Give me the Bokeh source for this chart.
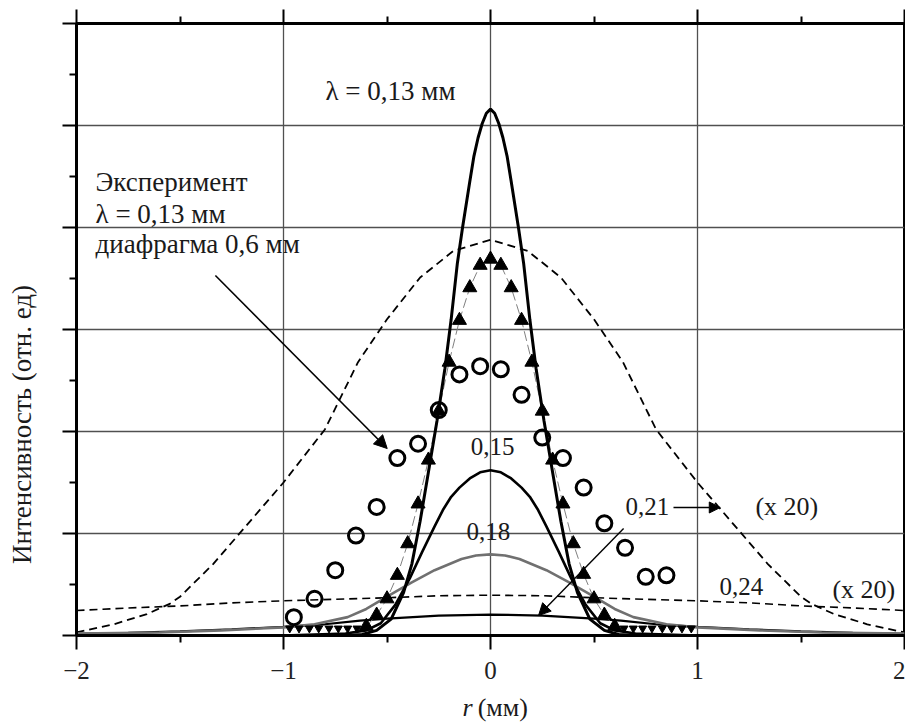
from math import pi
from bokeh.plotting import figure
from bokeh.layouts import row, column
from bokeh.models import Range1d, FixedTicker, LinearAxis, Label, Arrow, NormalHead
from bokeh.core.properties import value
from bokeh.embed import file_html
from bokeh.resources import INLINE

FONT = "Liberation Serif"

# ---------------- data ----------------
# theory, lambda = 0.13 mm
l013_x = [-0.70, -0.62, -0.55, -0.48, -0.42, -0.38, -0.34, -0.30, -0.258, -0.22, -0.19, -0.16, -0.135,
          -0.10, -0.08, -0.06, -0.04, -0.02, 0.0, 0.02, 0.04, 0.06, 0.08, 0.10, 0.135, 0.16, 0.19, 0.22,
          0.258, 0.30, 0.34, 0.38, 0.42, 0.48, 0.55, 0.62, 0.70]
l013_y = [0.0, 0.01, 0.05, 0.16, 0.42, 0.70, 1.12, 1.60, 2.11, 2.62, 3.10, 3.65, 4.00,
          4.45, 4.70, 4.88, 5.02, 5.12, 5.16, 5.12, 5.02, 4.88, 4.70, 4.45, 4.00, 3.65, 3.10, 2.62,
          2.11, 1.60, 1.12, 0.70, 0.42, 0.16, 0.05, 0.01, 0.0]

# theory, 0.15
l015_x = [-1.0, -0.85, -0.70, -0.60, -0.53, -0.46, -0.39, -0.33, -0.27, -0.23, -0.19, -0.15, -0.10, -0.05, 0.0,
          0.05, 0.10, 0.15, 0.19, 0.23, 0.27, 0.33, 0.39, 0.46, 0.53, 0.60, 0.70, 0.85, 1.0]
l015_y = [0.0, 0.01, 0.02, 0.05, 0.12, 0.30, 0.56, 0.82, 1.07, 1.23, 1.36, 1.45, 1.54, 1.60, 1.62,
          1.60, 1.54, 1.45, 1.36, 1.23, 1.07, 0.82, 0.56, 0.30, 0.12, 0.05, 0.02, 0.01, 0.0]

# theory, 0.18 (grey)
l018_x = [-2.0, -1.6, -1.3, -1.0, -0.85, -0.69, -0.60, -0.50, -0.38, -0.27, -0.14, -0.07, 0.0,
          0.07, 0.14, 0.27, 0.38, 0.50, 0.60, 0.69, 0.85, 1.0, 1.3, 1.6, 2.0]
l018_y = [0.02, 0.03, 0.05, 0.08, 0.11, 0.18, 0.26, 0.38, 0.52, 0.64, 0.75, 0.785, 0.795,
          0.785, 0.75, 0.64, 0.52, 0.38, 0.26, 0.18, 0.11, 0.08, 0.05, 0.03, 0.02]

# theory, 0.21
l021_x = [-2.0, -1.75, -1.5, -1.25, -1.0, -0.8, -0.63, -0.5, -0.25, 0.0,
          0.25, 0.5, 0.63, 0.8, 1.0, 1.25, 1.5, 1.75, 2.0]
l021_y = [0.015, 0.025, 0.04, 0.06, 0.085, 0.11, 0.145, 0.165, 0.195, 0.205,
          0.195, 0.165, 0.145, 0.11, 0.085, 0.06, 0.04, 0.025, 0.015]

# theory, 0.21 (x 20), dashed
l021x20_x = [-2.0, -1.82, -1.66, -1.55, -1.5, -1.34, -1.17, -1.0, -0.8, -0.64, -0.5, -0.34, -0.18, 0.0,
             0.18, 0.34, 0.5, 0.64, 0.8, 1.0, 1.17, 1.34, 1.5, 1.55, 1.66, 1.82, 2.0]
l021x20_y = [0.03, 0.11, 0.21, 0.31, 0.38, 0.70, 1.10, 1.50, 2.02, 2.68, 3.10, 3.51, 3.77, 3.88,
             3.77, 3.51, 3.10, 2.68, 2.02, 1.50, 1.10, 0.70, 0.38, 0.31, 0.21, 0.11, 0.03]

# theory, 0.24 (x 20), dashed
l024x20_x = [-2.0, -1.75, -1.5, -1.25, -1.0, -0.75, -0.5, -0.25, 0.0, 0.25, 0.5, 0.75, 1.0, 1.25, 1.5, 1.75, 2.0]
l024x20_y = [0.245, 0.27, 0.29, 0.32, 0.34, 0.355, 0.37, 0.39, 0.395, 0.39, 0.37, 0.355, 0.34, 0.32, 0.29, 0.27, 0.245]

# experiment, triangles
tri_x = [-0.60, -0.55, -0.50, -0.45, -0.40, -0.35, -0.30, -0.25, -0.20, -0.15, -0.10, -0.05, 0.0,
         0.05, 0.10, 0.15, 0.20, 0.25, 0.30, 0.35, 0.40, 0.45, 0.50, 0.55, 0.60]
tri_y = [0.09, 0.20, 0.36, 0.59, 0.90, 1.29, 1.72, 2.20, 2.68, 3.09, 3.41, 3.63, 3.69,
         3.63, 3.41, 3.09, 2.68, 2.20, 1.72, 1.29, 0.90, 0.60, 0.36, 0.20, 0.09]
# experiment, near-zero points on the baseline
low_x = [-0.97, -0.925, -0.875, -0.83, -0.78, -0.735, -0.69, -0.645,
         0.645, 0.69, 0.735, 0.78, 0.83, 0.875, 0.925, 0.97]
low_y = [0.07] * 16

# experiment, circles
circ_x = [-0.95, -0.85, -0.75, -0.65, -0.55, -0.45, -0.35, -0.25, -0.15, -0.05,
          0.05, 0.15, 0.25, 0.35, 0.45, 0.55, 0.65, 0.75, 0.85]
circ_y = [0.18, 0.36, 0.64, 0.98, 1.26, 1.74, 1.88, 2.21, 2.56, 2.64,
          2.61, 2.36, 1.94, 1.74, 1.45, 1.10, 0.86, 0.575, 0.59]

x_ticks = [-2, -1, 0, 1, 2]
x_tick_labels = ["\u22122", "\u22121", "0", "1", "2"]
x_minor = [-1.5, -0.5, 0.5, 1.5]
y_ticks = [0, 1, 2, 3, 4, 5, 6]
y_minor = [0.5, 1.5, 2.5, 3.5, 4.5, 5.5]

y_title = "Интенсивность (отн. ед)"
x_title_var = "r"
x_title_unit = "(мм)"

# ---------------- main figure ----------------
x_range = Range1d(-2, 2)
p = figure(width=865, height=690, x_range=x_range, y_range=Range1d(0, 6),
           output_backend="svg", toolbar_location=None,
           min_border_left=36, min_border_right=1, min_border_top=23, min_border_bottom=55,
           x_axis_location=None, y_axis_location=None)
p.background_fill_color = "white"
p.border_fill_color = "white"
p.outline_line_color = "black"
p.outline_line_width = 3

xt = FixedTicker(ticks=x_ticks, minor_ticks=x_minor)
yt = FixedTicker(ticks=y_ticks, minor_ticks=y_minor)

xb = LinearAxis(ticker=xt)
xb.major_label_overrides = {t: s for t, s in zip(x_ticks, x_tick_labels)}
xb.major_label_text_font = FONT
xb.major_label_text_font_size = "25px"
xb.major_label_text_color = "#222222"
xb.major_label_standoff = 12
p.add_layout(xb, "below")

xa = LinearAxis(ticker=xt)
xa.major_label_text_color = None
xa.major_label_text_font_size = "1px"
xa.major_label_standoff = 0
p.add_layout(xa, "above")

yl = LinearAxis(ticker=yt)
yl.major_label_text_color = None
yl.major_label_text_font_size = "1px"
yl.major_label_standoff = 0
p.add_layout(yl, "left")

for ax in (xb, xa, yl):
    ax.axis_line_width = 3
    ax.axis_line_color = "black"
    ax.major_tick_line_width = 2
    ax.minor_tick_line_width = 2
    ax.major_tick_in = 0
    ax.minor_tick_in = 0
    ax.major_tick_out = 14
    ax.minor_tick_out = 7

p.xgrid.ticker = FixedTicker(ticks=[-1, 0, 1])
p.ygrid.ticker = FixedTicker(ticks=[1, 2, 3, 4, 5])
for g in (p.xgrid, p.ygrid):
    g.grid_line_color = "#505050"
    g.grid_line_width = 1.3

# curves
p.line(l021x20_x, l021x20_y, line_color="black", line_width=1.8, line_dash="8 5")
p.line(l024x20_x, l024x20_y, line_color="black", line_width=1.6, line_dash="8 5")
p.line(l021_x, l021_y, line_color="black", line_width=2.2)
p.line(l018_x, l018_y, line_color="#707070", line_width=2.6)
p.line(l015_x, l015_y, line_color="black", line_width=2.6)
p.line(tri_x, tri_y, line_color="#808080", line_width=1, line_dash="10 4")
p.line(l013_x, l013_y, line_color="black", line_width=3)

p.scatter(tri_x, tri_y, marker="triangle", size=14, fill_color="black", line_color="black")
p.scatter(low_x, low_y, marker="inverted_triangle", size=8, fill_color="black", line_color="black")
p.scatter(circ_x, circ_y, marker="circle", size=15, fill_color=None, line_color="black", line_width=3)

# annotations inside the plot
def lab(x, y, text, size="27px", align="left"):
    p.add_layout(Label(x=x, y=y, text=text, text_font=FONT, text_font_size=size,
                       text_align=align, text_baseline="alphabetic", text_color="#1a1a1a"))

lab(-0.797, 5.335, "λ = 0,13 мм")
lab(-1.908, 4.446, "Эксперимент")
lab(-1.908, 4.13, "λ = 0,13 мм")
lab(-1.908, 3.835, "диафрагма 0,6 мм")
lab(0.01, 1.855, "0,15", size="25px", align="center")
lab(-0.01, 1.02, "0,18", size="25px", align="center")
lab(0.652, 1.266, "0,21", size="25px")
lab(1.28, 1.266, "(x 20)", size="26px")
lab(1.106, 0.482, "0,24", size="25px")
lab(1.652, 0.453, "(x 20)", size="26px")

# arrows
p.add_layout(Arrow(end=NormalHead(size=13, fill_color="black", line_color="black"),
                   x_start=-1.329, y_start=3.53, x_end=-0.499, y_end=1.833,
                   line_color="black", line_width=1.6))
p.add_layout(Arrow(end=NormalHead(size=11, fill_color="black", line_color="black"),
                   x_start=0.884, y_start=1.255, x_end=1.11, y_end=1.255,
                   line_color="black", line_width=1.6))
p.add_layout(Arrow(end=NormalHead(size=12, fill_color="black", line_color="black"),
                   x_start=0.643, y_start=1.049, x_end=0.232, y_end=0.196,
                   line_color="black", line_width=1.4))

# ---------------- x-axis title strip ----------------
pb = figure(width=865, height=36, x_range=x_range, y_range=Range1d(0, 36),
            output_backend="svg", toolbar_location=None,
            min_border_left=36, min_border_right=1, min_border_top=0, min_border_bottom=0,
            x_axis_location=None, y_axis_location=None)
pb.outline_line_color = None
pb.grid.visible = False
pb.text(x=[-0.135], y=[19], text=[x_title_var], text_font=value(FONT), text_font_size="26px",
        text_font_style="italic", text_baseline="alphabetic", text_align="left", text_color="#1a1a1a")
pb.text(x=[-0.062], y=[19], text=[x_title_unit], text_font=value(FONT), text_font_size="26px",
        text_baseline="alphabetic", text_align="left", text_color="#1a1a1a")

# ---------------- y-axis title strip ----------------
pl = figure(width=40, height=726, x_range=Range1d(0, 40), y_range=Range1d(0, 726),
            output_backend="svg", toolbar_location=None,
            min_border_left=0, min_border_right=0, min_border_top=0, min_border_bottom=0,
            x_axis_location=None, y_axis_location=None)
pl.outline_line_color = None
pl.grid.visible = False
pl.text(x=[21], y=[302], text=[y_title], text_font=value(FONT), text_font_size="27px",
        angle=pi / 2, text_baseline="alphabetic", text_align="center", text_color="#1a1a1a")

layout = row(pl, column(p, pb))
open("out.html", "w").write(file_html(layout, INLINE))
